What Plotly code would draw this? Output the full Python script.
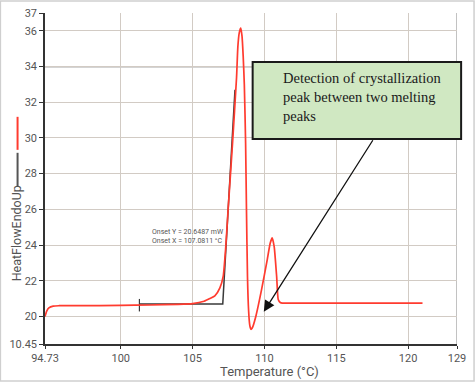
import plotly.graph_objects as go

# Red DSC curve (temperature °C, heat flow mW)
temp_red = [94.73, 94.85, 95.0, 95.3, 95.7, 97.0, 100.0, 102.0, 104.0, 105.0, 105.8, 106.2, 106.55,
            106.9, 107.13, 107.3, 107.47, 107.78, 108.06, 108.15, 108.25, 108.35, 108.44, 108.52,
            108.6, 108.69, 108.75, 108.82, 108.9, 108.98, 109.06, 109.15, 109.4, 109.8, 110.2,
            110.4, 110.54, 110.68, 110.85, 110.96, 111.1, 111.25, 113.0, 118.0, 121.0]
heat_red = [20.0, 20.3, 20.48, 20.58, 20.6, 20.6, 20.62, 20.64, 20.68, 20.72, 20.85, 21.0, 21.15,
            21.6, 22.24, 23.8, 25.96, 29.7, 33.4, 35.1, 35.9, 36.15, 35.7, 34.6,
            33.0, 29.7, 26.0, 22.24, 20.3, 19.5, 19.28, 19.35, 20.0, 21.5, 23.2,
            24.1, 24.4, 23.9, 22.24, 20.95, 20.78, 20.75, 20.75, 20.75, 20.75]

# Black onset construction line
temp_onset = [101.3, 107.1, 107.95]
heat_onset = [20.69, 20.69, 32.7]
tick_x = [101.3, 101.3]
tick_y = [20.28, 20.98]

x_tickvals = [94.73, 100, 105, 110, 115, 120, 123.4]
x_ticktext = ["94.73", "100", "105", "110", "115", "120", "129"]
y_tickvals = [18.455, 20, 22, 24, 26, 28, 30, 32, 34, 36, 37]
y_ticktext = ["10.45", "20", "22", "24", "26", "28", "30", "32", "34", "36", "37"]

X0, X1 = 94.73, 123.4
Y0, Y1 = 18.455, 37.0

fig = go.Figure()
fig.add_trace(go.Scatter(x=temp_onset, y=heat_onset, mode="lines",
                         line=dict(color="#3a3a3a", width=1.5), hoverinfo="skip"))
fig.add_trace(go.Scatter(x=tick_x, y=tick_y, mode="lines",
                         line=dict(color="#3a3a3a", width=1.2), hoverinfo="skip"))
fig.add_trace(go.Scatter(x=temp_red, y=heat_red, mode="lines",
                         line=dict(color="#ff3b2f", width=1.7, shape="spline", smoothing=0.5),
                         hoverinfo="skip"))

axis_font = dict(family="Roboto, Liberation Sans, sans-serif", size=11, color="#555")
fig.update_xaxes(range=[X0, X1], tickvals=x_tickvals, ticktext=x_ticktext, automargin=False,
                 showgrid=True, gridcolor="#d2cbc4", gridwidth=1,
                 showline=True, linecolor="#333", linewidth=1.5, mirror=False,
                 ticks="outside", ticklen=3, tickcolor="#333",
                 tickfont=axis_font, zeroline=False)
fig.update_yaxes(range=[Y0, Y1], tickvals=y_tickvals, ticktext=y_ticktext, automargin=False,
                 showgrid=True, gridcolor="#d2cbc4", gridwidth=1,
                 showline=True, linecolor="#333", linewidth=1.5,
                 ticks="outside", ticklen=4, tickcolor="#333",
                 tickfont=axis_font, zeroline=False)

shapes = [
    dict(type="line", xref="x", yref="y", x0=X0, x1=X1, y0=34, y1=34,
         line=dict(color="#555", width=1.2), layer="below"),
    dict(type="line", xref="x", yref="y", x0=X1, x1=X1, y0=Y0, y1=Y1,
         line=dict(color="#999", width=1.2), layer="below"),
    dict(type="line", xref="paper", yref="paper", x0=-0.0666, x1=-0.0666, y0=0.5866, y1=0.6863,
         line=dict(color="#ff3b2f", width=2)),
    dict(type="line", xref="paper", yref="paper", x0=-0.0666, x1=-0.0666, y0=0.475, y1=0.5776,
         line=dict(color="#555", width=2)),
    dict(type="rect", xref="paper", yref="paper", x0=-0.1083, x1=1.0414, y0=-0.1118, y1=1.036,
         line=dict(color="#cfcfcf", width=1.5)),
    dict(type="rect", xref="paper", yref="paper", x0=0.504, x1=1.010, y0=0.6196, y1=0.8523,
         fillcolor="#d0e8c2", line=dict(color="#1a1a1a", width=2)),
]

annotations = [
    dict(text="HeatFlowEndoUp", xref="paper", yref="paper", x=-0.069, y=0.333, textangle=-90,
         xanchor="center", yanchor="middle",
         showarrow=False, font=dict(family="Roboto, Liberation Sans, sans-serif", size=12.5, color="#555")),
    dict(text="Temperature (°C)", xref="paper", yref="paper", x=0.546, y=-0.082,
         xanchor="center", yanchor="middle",
         showarrow=False, font=dict(family="Roboto, Liberation Sans, sans-serif", size=13, color="#555")),
    dict(text="Onset Y = 20.6487 mW<br>Onset X = 107.0811 °C", xref="paper", yref="paper",
         x=0.2545, y=0.3255, xanchor="left", yanchor="middle", align="left", showarrow=False,
         font=dict(family="Roboto, Liberation Sans, sans-serif", size=7, color="#555")),
    dict(text="Detection of crystallization<br>peak between two melting<br>peaks", xref="paper", yref="paper",
         x=0.573, y=0.745, xanchor="left", yanchor="middle", align="left", showarrow=False,
         font=dict(family="Liberation Serif, Times New Roman, serif", size=14.5, color="#1a1a1a")),
    dict(text="", xref="paper", yref="paper", x=0.531, y=0.0975, ax=110, ay=-173,
         showarrow=True, arrowhead=2, arrowsize=1.7, arrowwidth=1.3, arrowcolor="#111"),
]

fig.update_layout(width=475, height=382, margin=dict(l=45, r=18, t=13, b=38),
                  plot_bgcolor="white", paper_bgcolor="white", showlegend=False,
                  shapes=shapes, annotations=annotations)
fig.write_html("out.html", config={"displayModeBar": False},
               post_script="document.body.style.margin='0px';document.body.style.overflow='hidden';")
